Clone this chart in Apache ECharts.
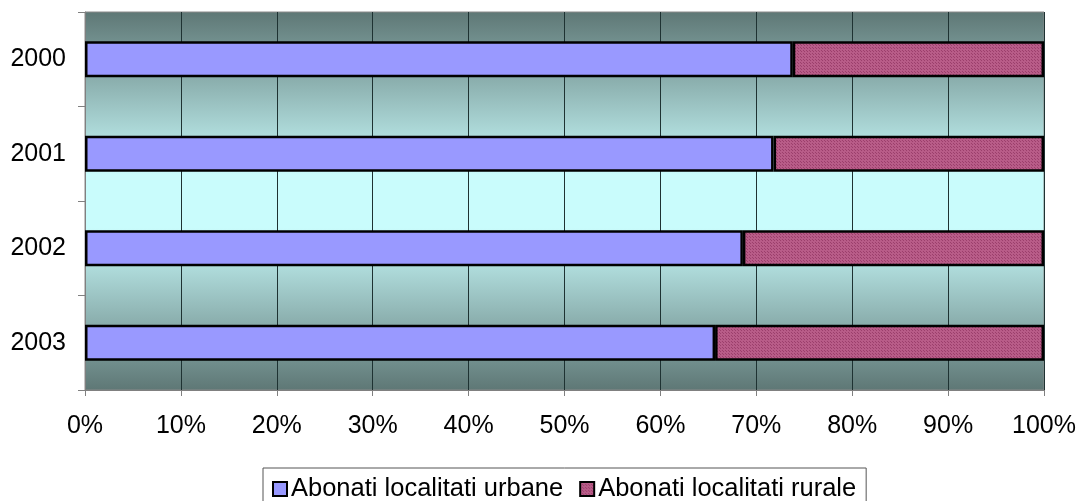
<!DOCTYPE html>
<html>
<head>
<meta charset="utf-8">
<script src="https://cdn.jsdelivr.net/npm/echarts@6/dist/echarts.min.js"></script>
<style>
  html, body { margin: 0; padding: 0; background: #fff; }
  #chart { width: 1079px; height: 501px; }
</style>
</head>
<body>
<div id="chart"></div>
<script>
// date
var years = ['2000', '2001', '2002', '2003'];
var urbane = [73.8, 71.8, 68.6, 65.7];
var rurale = [26.2, 28.2, 31.4, 34.3];
var seriesNames = ['Abonati localitati urbane', 'Abonati localitati rurale'];

// model punctat pentru seria rurala
function dotPattern() {
  var c = document.createElement('canvas');
  c.width = 3; c.height = 3;
  var ctx = c.getContext('2d');
  ctx.fillStyle = '#b85c88';
  ctx.fillRect(0, 0, 3, 3);
  ctx.fillStyle = '#9c3f6c';
  ctx.fillRect(0, 0, 1, 1);
  ctx.fillRect(2, 2, 1, 1);
  return c;
}

var myChart = echarts.init(document.getElementById('chart'));
var font = 'Liberation Sans, Arial, sans-serif';

var option = {
  animation: false,
  textStyle: { fontFamily: font },
  grid: {
    left: 85, right: 34, top: 12, bottom: 111,
    show: true,
    borderColor: '#8a8a8a',
    borderWidth: 1,
    backgroundColor: new echarts.graphic.LinearGradient(0, 0, 0, 1, [
      { offset: 0, color: '#5e7775' },
      { offset: 0.43, color: '#c9fcfc' },
      { offset: 0.57, color: '#c9fcfc' },
      { offset: 1, color: '#5e7775' }
    ])
  },
  legend: {
    top: 468,
    left: 263,
    data: seriesNames,
    itemWidth: 14,
    itemHeight: 14,
    itemGap: 16,
    padding: [8, 10, 8, 9],
    borderColor: '#555',
    borderWidth: 1,
    textStyle: { fontSize: 25.5, color: '#000', fontFamily: font, padding: [0, 0, 0, -1] },
    icon: 'rect'
  },
  xAxis: {
    type: 'value',
    min: 0,
    max: 100,
    interval: 10,
    axisLine: { show: true, lineStyle: { color: '#808080', width: 1 } },
    axisTick: { show: true, length: 6, lineStyle: { color: '#808080' } },
    axisLabel: {
      margin: 24,
      fontSize: 25,
      color: '#000',
      formatter: '{value}%'
    },
    splitLine: { show: true, lineStyle: { color: '#1e3232', width: 1 } }
  },
  yAxis: {
    type: 'category',
    inverse: true,
    data: years,
    axisLine: { show: true, lineStyle: { color: '#808080', width: 1 } },
    axisTick: { show: true, length: 7, lineStyle: { color: '#808080' } },
    axisLabel: { margin: 19, fontSize: 25, color: '#000' },
    splitLine: { show: false }
  },
  series: [
    {
      name: seriesNames[0],
      type: 'bar',
      stack: 'total',
      barWidth: '38%',
      data: urbane,
      itemStyle: { color: '#9999ff', borderColor: '#000', borderWidth: 2.5 }
    },
    {
      name: seriesNames[1],
      type: 'bar',
      stack: 'total',
      barWidth: '38%',
      data: rurale,
      itemStyle: {
        color: { image: dotPattern(), repeat: 'repeat' },
        borderColor: '#000',
        borderWidth: 2.5
      }
    }
  ]
};

myChart.setOption(option);
</script>
</body>
</html>
